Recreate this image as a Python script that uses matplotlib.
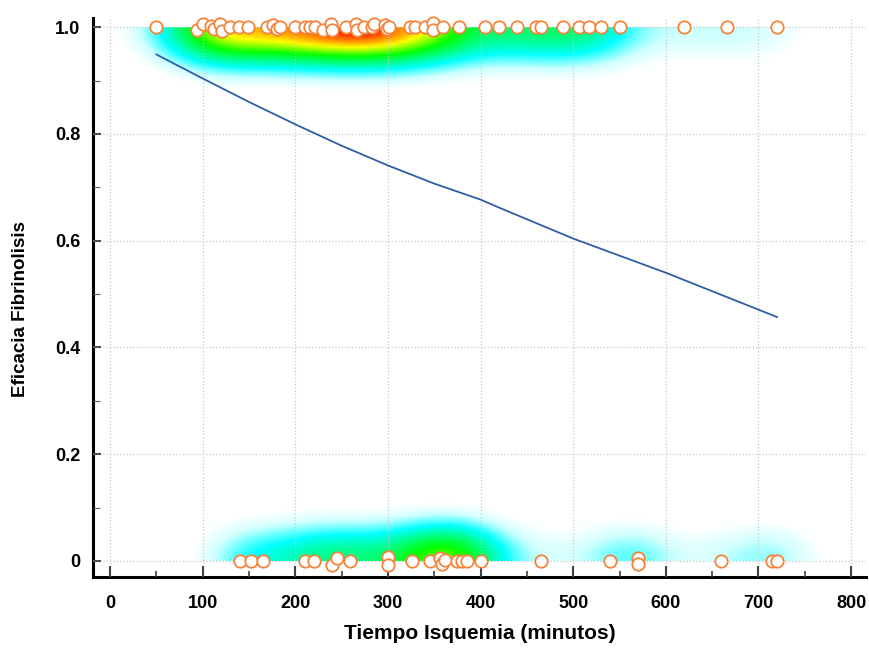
import numpy as np
import matplotlib
matplotlib.use("Agg")
import matplotlib.pyplot as plt
from matplotlib.colors import LinearSegmentedColormap
from matplotlib.ticker import MultipleLocator, FixedLocator, FixedFormatter

plt.rcParams['font.family'] = ['Liberation Sans', 'DejaVu Sans']

# Pacientes con fibrinolisis eficaz (1)
tiempo_eficaz = [50, 94, 100, 109, 112, 119, 121, 130, 139, 149, 169, 176, 180, 184,
                 200, 210, 216, 221, 230, 238, 240, 255, 266, 267, 274, 283, 285, 297,
                 299, 301, 324, 329, 340, 349, 349, 359, 377, 405, 420, 439, 460, 465,
                 489, 506, 517, 530, 550, 620, 666, 720]
eficacia_eficaz = [1.0, 0.994, 1.006, 1.003, 0.996, 1.006, 0.993, 1.0, 1.0, 1.0, 1.0, 1.004, 0.996, 1.0,
                   1.0, 1.0, 1.0, 1.0, 0.994, 1.006, 0.994, 1.0, 1.006, 0.994, 1.0, 1.0, 1.006, 1.005,
                   0.996, 1.0, 1.0, 1.0, 1.0, 1.008, 0.995, 1.0, 1.0, 1.0, 1.0, 1.0, 1.0, 1.0,
                   1.0, 1.0, 1.0, 1.0, 1.0, 1.0, 1.0, 1.0]

# Pacientes con fibrinolisis ineficaz (0)
tiempo_ineficaz = [140, 152, 165, 211, 220, 240, 245, 259, 300, 300, 326, 345, 356, 358,
                   362, 375, 380, 385, 400, 465, 540, 570, 570, 660, 715, 720]
eficacia_ineficaz = [0, 0, 0, 0, 0, -0.007, 0.006, 0, 0.007, -0.008, 0, 0, 0.005, -0.006,
                     0.002, 0, 0, 0, 0, 0, 0, 0.005, -0.006, 0, 0, 0]

# Curva ajustada
curva_x = [50, 100, 150, 200, 250, 300, 350, 400, 420, 500, 600, 720]
curva_y = [0.949, 0.904, 0.860, 0.818, 0.778, 0.741, 0.707, 0.677, 0.662, 0.604, 0.540, 0.457]

xticks = [0, 100, 200, 300, 400, 500, 600, 700, 800]
yticks = [0, 0.2, 0.4, 0.6, 0.8, 1.0]
ytick_labels = ['0', '0.2', '0.4', '0.6', '0.8', '1.0']

fig = plt.figure(figsize=(8.69, 6.48), dpi=100)
ax = fig.add_axes([0.107, 0.1096, 0.8895, 0.8624])
xmin, xmax = -18.4, 816
ymin, ymax = -0.03, 1.017

# Mapa de densidad
gx = np.linspace(xmin, xmax, 400)
gy = np.linspace(0, 1, 200)
GX, GY = np.meshgrid(gx, gy)
todos_x = np.array(tiempo_eficaz + tiempo_ineficaz, dtype=float)
todos_y = np.round(np.array(eficacia_eficaz + eficacia_ineficaz))
hx, hy = 40.0, 0.05
dens = np.zeros_like(GX)
for px, py in zip(todos_x, todos_y):
    dens += np.exp(-0.5 * ((GX - px) / hx) ** 2 - 0.5 * ((GY - py) / hy) ** 2)
dens /= dens.max()
cmap = LinearSegmentedColormap.from_list('dens', [
    (0.0, '#ffffff'), (0.06, '#ffffff'), (0.14, '#d0ffff'), (0.28, '#00ffff'),
    (0.58, '#00ff00'), (0.78, '#ffff00'), (0.91, '#ff8000'), (1.0, '#ff1000')])
ax.imshow(dens, extent=[xmin, xmax, 0, 1], origin='lower', aspect='auto',
          cmap=cmap, vmin=0, vmax=1, interpolation='bilinear', zorder=0.5)

ax.plot(curva_x, curva_y, color='#2e5fa6', linewidth=1.3, zorder=3)
ax.scatter(tiempo_eficaz, eficacia_eficaz, s=80, facecolor='white',
           edgecolor='#f5843a', linewidth=1.3, zorder=4, clip_on=False)
ax.scatter(tiempo_ineficaz, eficacia_ineficaz, s=80, facecolor='white',
           edgecolor='#f5843a', linewidth=1.3, zorder=4, clip_on=False)

ax.set_xlim(xmin, xmax)
ax.set_ylim(ymin, ymax)

ax.grid(True, which='major', color='#c8c8c8', linestyle=':', linewidth=0.9)
ax.set_axisbelow(False)

ax.xaxis.set_major_locator(FixedLocator(xticks))
ax.xaxis.set_minor_locator(MultipleLocator(50))
ax.yaxis.set_major_locator(FixedLocator(yticks))
ax.yaxis.set_major_formatter(FixedFormatter(ytick_labels))
ax.yaxis.set_minor_locator(MultipleLocator(0.1))

ax.tick_params(axis='x', which='major', direction='in', length=8, width=1.5,
               color='#404040', pad=13, labelsize=13)
ax.tick_params(axis='x', which='minor', direction='in', length=4.5, width=1.2,
               color='#404040')
ax.tick_params(axis='y', which='major', direction='in', length=5.5, width=1.5,
               color='#505050', pad=9, labelsize=13)
ax.tick_params(axis='y', which='minor', direction='in', length=5, width=0.8,
               color='#606060')
for lbl in ax.get_xticklabels() + ax.get_yticklabels():
    lbl.set_fontweight('bold')

for s in ['top', 'right']:
    ax.spines[s].set_visible(False)
for s in ['left', 'bottom']:
    ax.spines[s].set_linewidth(2.2)
    ax.spines[s].set_color('black')

ax.set_xlabel('Tiempo Isquemia (minutos)', fontsize=15, fontweight='bold')
ax.set_ylabel('Eficacia Fibrinolisis', fontsize=13.5, fontweight='bold')
ax.xaxis.set_label_coords(0.501, -0.102)
ax.xaxis.label.set_va('center')
ax.yaxis.set_label_coords(-0.094, 0.48)
ax.yaxis.label.set_va('center')

fig.savefig('out.png', dpi=100)
